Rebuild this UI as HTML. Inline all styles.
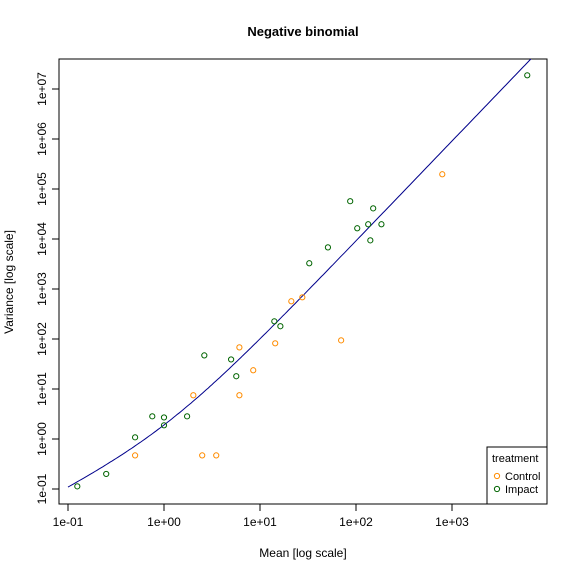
<!DOCTYPE html>
<html><head><meta charset="utf-8"><style>body{margin:0;background:#fff}svg{display:block;font-family:"Liberation Sans",Arial,sans-serif}</style></head>
<body>
<svg id="c" width="576" height="576"></svg>
<script>
const meanVals=[0.125,0.25,0.5,0.5,0.755,1,1,1.74,2.02,2.5,3.5,2.63,5.0,5.66,6.1,6.1,8.5,14.4,6080,792,87,151,103,134,184,141,51,32.6,21.2,27.6,14.1,16.3,70];
const varVals=[0.113,0.2,1.08,0.47,2.84,2.7,1.88,2.84,7.5,0.47,0.47,47,39,18,68,7.5,23.7,82,1.88e7,1.97e5,5.7e4,4.1e4,1.64e4,1.97e4,1.97e4,9400,6800,3270,568,682,226,180,94];
const groups=["I","I","I","C","I","I","I","I","C","C","C","I","I","I","C","C","C","C","I","C","I","I","I","I","I","I","I","I","C","C","I","I","C"];
const xTicks=["1e-01","1e+00","1e+01","1e+02","1e+03"];
const yTicks=["1e-01","1e+00","1e+01","1e+02","1e+03","1e+04","1e+05","1e+06","1e+07"];
const kParam=1.1;
const NS="http://www.w3.org/2000/svg",svg=document.getElementById('c');
const L=59,R=547,T=59,B=504;
const X=v=>164+96*Math.log10(v), Y=v=>439-50*Math.log10(v);
function el(t,a,p){const e=document.createElementNS(NS,t);for(const k in a)e.setAttribute(k,a[k]);(p||svg).appendChild(e);return e;}
function tx(s,a){const e=el('text',a);e.textContent=s;return e;}
let f=el('rect',{x:L,y:T,width:R-L,height:B-T,fill:'none',stroke:'#000'});

let t=tx('Negative binomial',{x:303,y:36,'text-anchor':'middle','font-size':13,'font-weight':'bold'});

xTicks.forEach(s=>{const x=X(+s);el('line',{x1:x,x2:x,y1:B,y2:B+7,stroke:'#000'});
 const e=tx(s,{x:x,y:B+22,'text-anchor':'middle','font-size':12});});
yTicks.forEach(s=>{const y=Y(+s);el('line',{x1:L,x2:L-7,y1:y,y2:y,stroke:'#000'});
 const e=tx(s,{x:L-13,y:y,'text-anchor':'middle','font-size':12,transform:`rotate(-90 ${L-13} ${y})`});});
t=tx('Mean [log scale]',{x:303,y:557,'text-anchor':'middle','font-size':12});
t=tx('Variance [log scale]',{x:13,y:282,'text-anchor':'middle','font-size':12,transform:'rotate(-90 13 282)'});
el('clipPath',{id:'cp'});el('rect',{x:L,y:T,width:R-L,height:B-T},svg.lastChild);
let d='';for(let i=0;i<=250;i++){const m=Math.pow(10,-1+i*5/250);const v=m+m*m/kParam;d+=(i?'L':'M')+X(m).toFixed(1)+','+Y(v).toFixed(1);}
let c=el('path',{d:d,fill:'none',stroke:'#00008b','stroke-width':1,'clip-path':'url(#cp)'});

meanVals.forEach((m,i)=>{const p=el('circle',{cx:X(m),cy:Y(varVals[i]),r:2.6,fill:'none',stroke:groups[i]=='C'?'#ff8c00':'#006400','stroke-width':1});
 });
const lg=el('g',{});
el('rect',{x:487,y:447,width:60,height:57,fill:'#fff',stroke:'#000'},lg);
const lt=el('text',{x:492,y:462,'font-size':11},lg);lt.textContent='treatment';
[['Control','#ff8c00'],['Impact','#006400']].forEach((e,i)=>{const y=477+i*13;el('circle',{cx:497,cy:y-1,r:2.6,fill:'none',stroke:e[1]},lg);const q=el('text',{x:505,y:y+3,'font-size':11},lg);q.textContent=e[0];});
</script>
</body></html>
